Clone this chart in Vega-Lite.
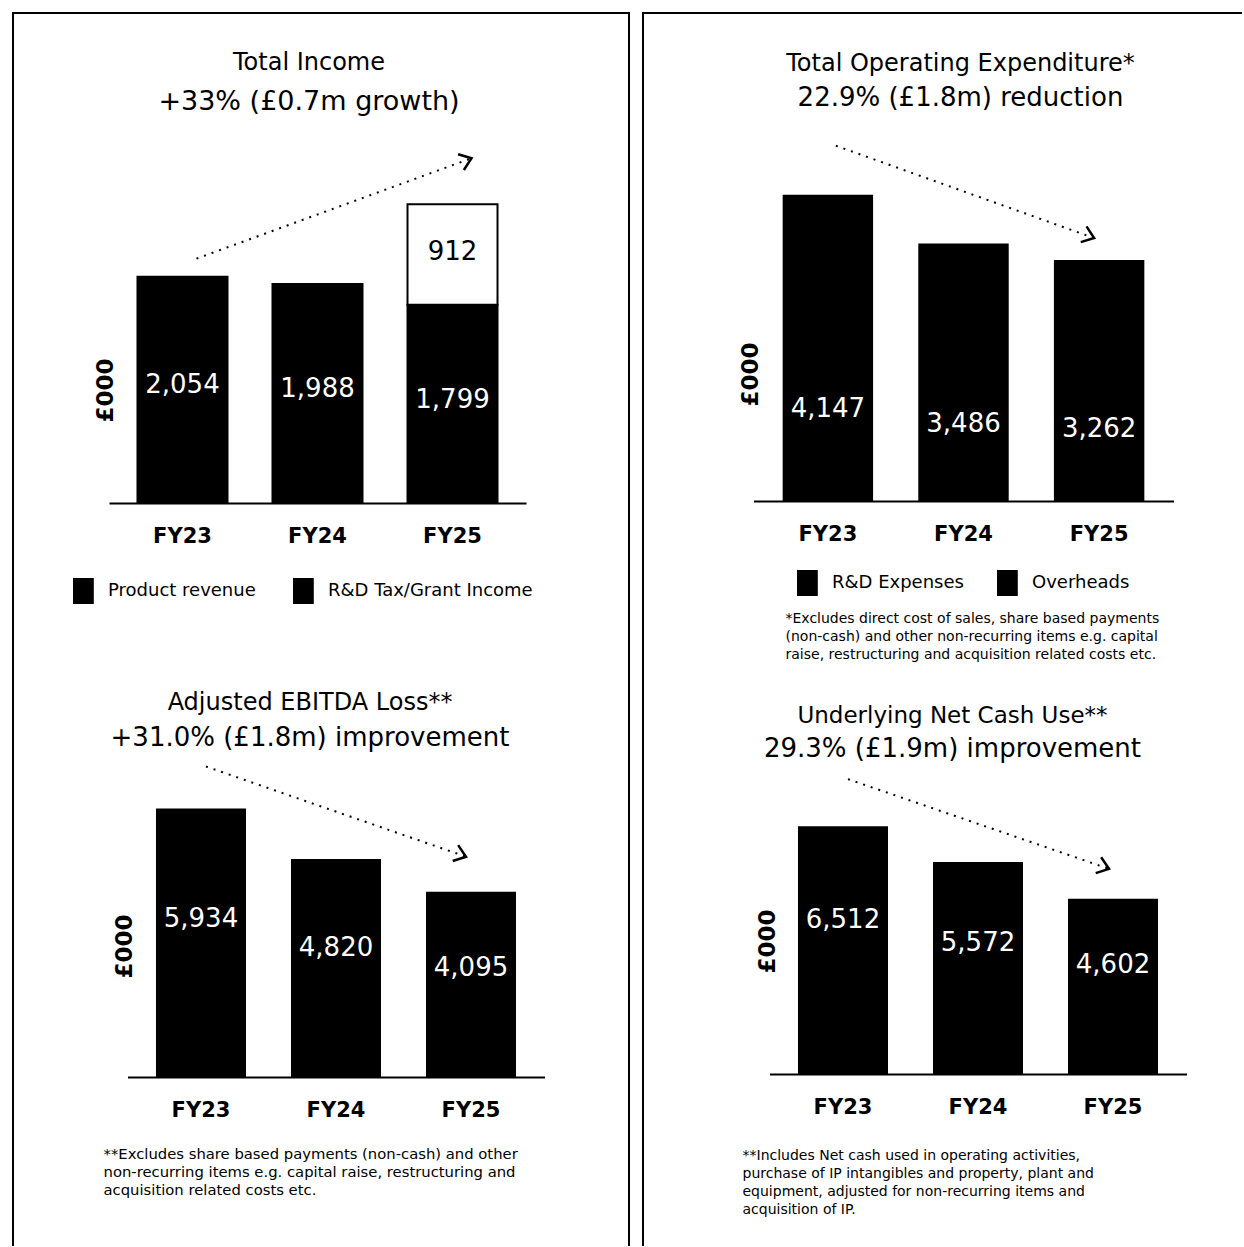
{
  "$schema": "https://vega.github.io/schema/vega-lite/v6.json",
  "background": "white",
  "padding": {"left": 12, "top": 12, "right": 0, "bottom": 0},
  "spacing": 12,
  "resolve": {"scale": {"color": "independent"}, "legend": {"color": "independent"}},
  "config": {
    "font": "DejaVu Sans",
    "view": {"stroke": null},
    "axis": {"grid": false, "ticks": false, "domainColor": "black", "domainWidth": 2, "labelColor": "black", "titleColor": "black"},
    "title": {"color": "black", "subtitleColor": "black", "anchor": "middle", "frame": "group", "fontWeight": "normal", "fontSize": 24, "subtitleFontSize": 26, "font": "DejaVu Sans", "subtitleFont": "DejaVu Sans"},
    "legend": {"orient": "none", "direction": "horizontal", "title": null, "symbolType": "M-0.8,-1H0.8V1H-0.8Z", "symbolSize": 676, "symbolOpacity": 1, "symbolStrokeWidth": 0, "labelFontSize": 18, "labelColor": "black", "labelOffset": 11.6, "labelLimit": 0, "padding": 0}
  },
  "hconcat": [
    {
      "spacing": 0,
      "bounds": "flush",
      "resolve": {"scale": {"color": "independent"}, "legend": {"color": "independent"}},
      "vconcat": [
        {
          "width": 616,
          "height": 653,
          "view": {"stroke": "black", "strokeWidth": 2, "strokeDash": [1269, 616, 653], "fill": null},
          "title": {"text": "Total Income", "subtitle": "+33% (£0.7m growth)", "offset": -102, "subtitlePadding": 14, "dx": -12, "subtitleFontSize": 27},
          "layer": [
            {
              "data": {"values": [
                {"year": "FY23", "series": "Product revenue", "value": 2054},
                {"year": "FY24", "series": "Product revenue", "value": 1988},
                {"year": "FY25", "series": "Product revenue", "value": 1799},
                {"year": "FY25", "series": "R&D Tax/Grant Income", "value": 912}
              ]},
              "layer": [
                {
                  "mark": {"type": "bar", "strokeWidth": 2},
                  "encoding": {
                    "x": {"field": "year", "type": "nominal", "scale": {"domain": ["FY23", "FY24", "FY25"], "range": [96, 513], "paddingInner": 0.3333, "paddingOuter": 0.211},
                      "axis": {"offset": -163, "labelFontSize": 21, "labelFontWeight": "bold", "labelPadding": 22, "labelAngle": 0, "title": null}},
                    "y": {"field": "value", "type": "quantitative", "stack": "zero", "scale": {"domain": [0, 3000], "range": [490, 159.4], "nice": false},
                      "axis": {"domain": false, "labels": false, "title": "£000", "titleX": 92, "titleY": 377, "titleAngle": -90, "titleAlign": "center", "titleBaseline": "middle", "titleFontSize": 23, "titleFontWeight": "bold"}},
                    "detail": {"field": "series"},
                    "order": {"field": "series", "sort": "ascending"},
                    "fill": {"condition": {"test": "datum.series === 'R&D Tax/Grant Income'", "value": "white"}, "value": "black"},
                    "stroke": {"value": "black"}
                  }
                },
                {
                  "mark": {"type": "text", "fontSize": 26, "baseline": "middle", "align": "center"},
                  "encoding": {
                    "x": {"field": "year", "type": "nominal"},
                    "y": {"field": "value", "type": "quantitative", "stack": "zero", "bandPosition": 0.52},
                    "detail": {"field": "series"},
                    "order": {"field": "series", "sort": "ascending"},
                    "text": {"field": "value", "type": "quantitative", "format": ","},
                    "color": {"condition": {"test": "datum.series === 'R&D Tax/Grant Income'", "value": "black"}, "value": "white"}
                  }
                }
              ]
            },
            {
              "data": {"values": [{"from": "FY23", "to": "FY25", "start": 2054, "end": 2711}]},
              "layer": [
                {
                  "mark": {"type": "rule", "strokeDash": [2, 6], "strokeWidth": 2, "color": "black", "xOffset": 14, "x2Offset": 19, "yOffset": -18, "y2Offset": -46},
                  "encoding": {
                    "x": {"field": "from", "type": "nominal"},
                    "x2": {"field": "to"},
                    "y": {"field": "start", "type": "quantitative"},
                    "y2": {"field": "end"}
                  }
                },
                {
                  "mark": {"type": "point", "shape": "M-1,-0.75L0,0L-1,0.75", "filled": false, "size": 500, "strokeWidth": 2.5, "color": "black", "opacity": 1, "angle": 340, "xOffset": 19, "yOffset": -46},
                  "encoding": {
                    "x": {"field": "to", "type": "nominal"},
                    "y": {"field": "end", "type": "quantitative"}
                  }
                }
              ]
            },
            {
              "data": {"values": [{"series": "Product revenue"}, {"series": "R&D Tax/Grant Income"}]},
              "mark": {"type": "square", "opacity": 0},
              "encoding": {
                "color": {"field": "series", "type": "nominal", "scale": {"domain": ["Product revenue", "R&D Tax/Grant Income"], "range": ["black", "black"]},
                  "legend": {"legendX": 57.4, "legendY": 565, "columnPadding": 34}}
              }
            }
          ]
        },
        {
          "width": 616,
          "height": 580,
          "view": {"stroke": "black", "strokeWidth": 2, "strokeDash": [0, 616, 580, 616, 580], "fill": null},
          "title": {"text": "Adjusted EBITDA Loss**", "subtitle": "+31.0% (£1.8m) improvement", "offset": -85, "subtitlePadding": 10, "dx": -11},
          "layer": [
            {
              "data": {"values": [
                {"year": "FY23", "value": 5934},
                {"year": "FY24", "value": 4820},
                {"year": "FY25", "value": 4095}
              ]},
              "layer": [
                {
                  "mark": {"type": "bar", "color": "black"},
                  "encoding": {
                    "x": {"field": "year", "type": "nominal", "scale": {"domain": ["FY23", "FY24", "FY25"], "range": [114.5, 531.5], "paddingInner": 0.3333, "paddingOuter": 0.211},
                      "axis": {"offset": -169, "labelFontSize": 21, "labelFontWeight": "bold", "labelPadding": 22, "labelAngle": 0,
                        "title": ["**Excludes share based payments (non-cash) and other", "non-recurring items e.g. capital raise, restructuring and", "acquisition related costs etc."],
                        "titleX": 90, "titleY": 69, "titleAlign": "left", "titleBaseline": "top", "titleFontSize": 14.8, "titleFontWeight": "normal", "titleLineHeight": 18, "titleAngle": 0}},
                    "y": {"field": "value", "type": "quantitative", "stack": "zero", "scale": {"domain": [0, 8000], "range": [411, 49], "nice": false},
                      "axis": {"domain": false, "labels": false, "title": "£000", "titleX": 111, "titleY": 280, "titleAngle": -90, "titleAlign": "center", "titleBaseline": "middle", "titleFontSize": 23, "titleFontWeight": "bold"}}
                  }
                },
                {
                  "mark": {"type": "text", "fontSize": 26, "baseline": "middle", "align": "center", "color": "white"},
                  "encoding": {
                    "x": {"field": "year", "type": "nominal"},
                    "y": {"field": "value", "type": "quantitative", "stack": "zero", "bandPosition": 0.59},
                    "text": {"field": "value", "type": "quantitative", "format": ","}
                  }
                }
              ]
            },
            {
              "data": {"values": [{"from": "FY23", "to": "FY25", "start": 5934, "end": 4095}]},
              "layer": [
                {
                  "mark": {"type": "rule", "strokeDash": [2, 6], "strokeWidth": 2, "color": "black", "xOffset": 5, "x2Offset": -5, "yOffset": -42, "y2Offset": -35},
                  "encoding": {
                    "x": {"field": "from", "type": "nominal"},
                    "x2": {"field": "to"},
                    "y": {"field": "start", "type": "quantitative"},
                    "y2": {"field": "end"}
                  }
                },
                {
                  "mark": {"type": "point", "shape": "M-1,-0.75L0,0L-1,0.75", "filled": false, "size": 500, "strokeWidth": 2.5, "color": "black", "opacity": 1, "angle": 19, "xOffset": -5, "yOffset": -35},
                  "encoding": {
                    "x": {"field": "to", "type": "nominal"},
                    "y": {"field": "end", "type": "quantitative"}
                  }
                }
              ]
            }
          ]
        }
      ]
    },
    {
      "spacing": 0,
      "bounds": "flush",
      "resolve": {"scale": {"color": "independent"}, "legend": {"color": "independent"}},
      "vconcat": [
        {
          "width": 599,
          "height": 653,
          "view": {"stroke": "black", "strokeWidth": 2, "strokeDash": [599, 1252, 653], "fill": null},
          "title": {"text": "Total Operating Expenditure*", "subtitle": "22.9% (£1.8m) reduction", "offset": -98, "subtitlePadding": 9, "dx": 18},
          "layer": [
            {
              "data": {"values": [
                {"year": "FY23", "value": 4147},
                {"year": "FY24", "value": 3486},
                {"year": "FY25", "value": 3262}
              ]},
              "layer": [
                {
                  "mark": {"type": "bar", "color": "black"},
                  "encoding": {
                    "x": {"field": "year", "type": "nominal", "scale": {"domain": ["FY23", "FY24", "FY25"], "range": [110.5, 530.5], "paddingInner": 0.3333, "paddingOuter": 0.215},
                      "axis": {"offset": -165, "labelFontSize": 21, "labelFontWeight": "bold", "labelPadding": 22, "labelAngle": 0,
                        "title": ["*Excludes direct cost of sales, share based payments", "(non-cash) and other non-recurring items e.g. capital", "raise, restructuring and acquisition related costs etc."],
                        "titleX": 142, "titleY": 110, "titleAlign": "left", "titleBaseline": "top", "titleFontSize": 14, "titleFontWeight": "normal", "titleLineHeight": 18, "titleAngle": 0}},
                    "y": {"field": "value", "type": "quantitative", "stack": "zero", "scale": {"domain": [0, 6000], "range": [488, 44.84], "nice": false},
                      "axis": {"domain": false, "labels": false, "title": "£000", "titleX": 107, "titleY": 361, "titleAngle": -90, "titleAlign": "center", "titleBaseline": "middle", "titleFontSize": 23, "titleFontWeight": "bold"}}
                  }
                },
                {
                  "mark": {"type": "text", "fontSize": 26, "baseline": "middle", "align": "center", "color": "white"},
                  "encoding": {
                    "x": {"field": "year", "type": "nominal"},
                    "y": {"field": "value", "type": "quantitative", "stack": "zero", "bandPosition": 0.3},
                    "text": {"field": "value", "type": "quantitative", "format": ","}
                  }
                }
              ]
            },
            {
              "data": {"values": [{"from": "FY23", "to": "FY25", "start": 4147, "end": 3262}]},
              "layer": [
                {
                  "mark": {"type": "rule", "strokeDash": [2, 6], "strokeWidth": 2, "color": "black", "xOffset": 8, "x2Offset": -5, "yOffset": -49, "y2Offset": -22},
                  "encoding": {
                    "x": {"field": "from", "type": "nominal"},
                    "x2": {"field": "to"},
                    "y": {"field": "start", "type": "quantitative"},
                    "y2": {"field": "end"}
                  }
                },
                {
                  "mark": {"type": "point", "shape": "M-1,-0.75L0,0L-1,0.75", "filled": false, "size": 500, "strokeWidth": 2.5, "color": "black", "opacity": 1, "angle": 20, "xOffset": -5, "yOffset": -22},
                  "encoding": {
                    "x": {"field": "to", "type": "nominal"},
                    "y": {"field": "end", "type": "quantitative"}
                  }
                }
              ]
            },
            {
              "data": {"values": [{"series": "R&D Expenses"}, {"series": "Overheads"}]},
              "mark": {"type": "square", "opacity": 0},
              "encoding": {
                "color": {"field": "series", "type": "nominal", "scale": {"domain": ["R&D Expenses", "Overheads"], "range": ["black", "black"]},
                  "legend": {"legendX": 151.4, "legendY": 557, "columnPadding": 30}}
              }
            }
          ]
        },
        {
          "width": 599,
          "height": 580,
          "view": {"stroke": "black", "strokeWidth": 2, "strokeDash": [0, 1778, 580], "fill": null},
          "title": {"text": "Underlying Net Cash Use**", "subtitle": "29.3% (£1.9m) improvement", "offset": -96, "subtitlePadding": 8, "dx": 10, "fontSize": 23},
          "layer": [
            {
              "data": {"values": [
                {"year": "FY23", "value": 6512},
                {"year": "FY24", "value": 5572},
                {"year": "FY25", "value": 4602}
              ]},
              "layer": [
                {
                  "mark": {"type": "bar", "color": "black"},
                  "encoding": {
                    "x": {"field": "year", "type": "nominal", "scale": {"domain": ["FY23", "FY24", "FY25"], "range": [126.5, 543.5], "paddingInner": 0.3333, "paddingOuter": 0.211},
                      "axis": {"offset": -172, "labelFontSize": 21, "labelFontWeight": "bold", "labelPadding": 22, "labelAngle": 0,
                        "title": ["**Includes Net cash used in operating activities,", "purchase of IP intangibles and property, plant and", "equipment, adjusted for non-recurring items and", "acquisition of IP."],
                        "titleX": 99, "titleY": 74, "titleAlign": "left", "titleBaseline": "top", "titleFontSize": 14, "titleFontWeight": "normal", "titleLineHeight": 18, "titleAngle": 0}},
                    "y": {"field": "value", "type": "quantitative", "stack": "zero", "scale": {"domain": [0, 8000], "range": [408, 103.5], "nice": false},
                      "axis": {"domain": false, "labels": false, "title": "£000", "titleX": 124, "titleY": 275, "titleAngle": -90, "titleAlign": "center", "titleBaseline": "middle", "titleFontSize": 23, "titleFontWeight": "bold"}}
                  }
                },
                {
                  "mark": {"type": "text", "fontSize": 26, "baseline": "middle", "align": "center", "color": "white"},
                  "encoding": {
                    "x": {"field": "year", "type": "nominal"},
                    "y": {"field": "value", "type": "quantitative", "stack": "zero", "bandPosition": 0.62},
                    "text": {"field": "value", "type": "quantitative", "format": ","}
                  }
                }
              ]
            },
            {
              "data": {"values": [{"from": "FY23", "to": "FY25", "start": 6512, "end": 4602}]},
              "layer": [
                {
                  "mark": {"type": "rule", "strokeDash": [2, 6], "strokeWidth": 2, "color": "black", "xOffset": 5, "x2Offset": -4, "yOffset": -47, "y2Offset": -30},
                  "encoding": {
                    "x": {"field": "from", "type": "nominal"},
                    "x2": {"field": "to"},
                    "y": {"field": "start", "type": "quantitative"},
                    "y2": {"field": "end"}
                  }
                },
                {
                  "mark": {"type": "point", "shape": "M-1,-0.75L0,0L-1,0.75", "filled": false, "size": 500, "strokeWidth": 2.5, "color": "black", "opacity": 1, "angle": 19, "xOffset": -4, "yOffset": -30},
                  "encoding": {
                    "x": {"field": "to", "type": "nominal"},
                    "y": {"field": "end", "type": "quantitative"}
                  }
                }
              ]
            }
          ]
        }
      ]
    }
  ]
}
